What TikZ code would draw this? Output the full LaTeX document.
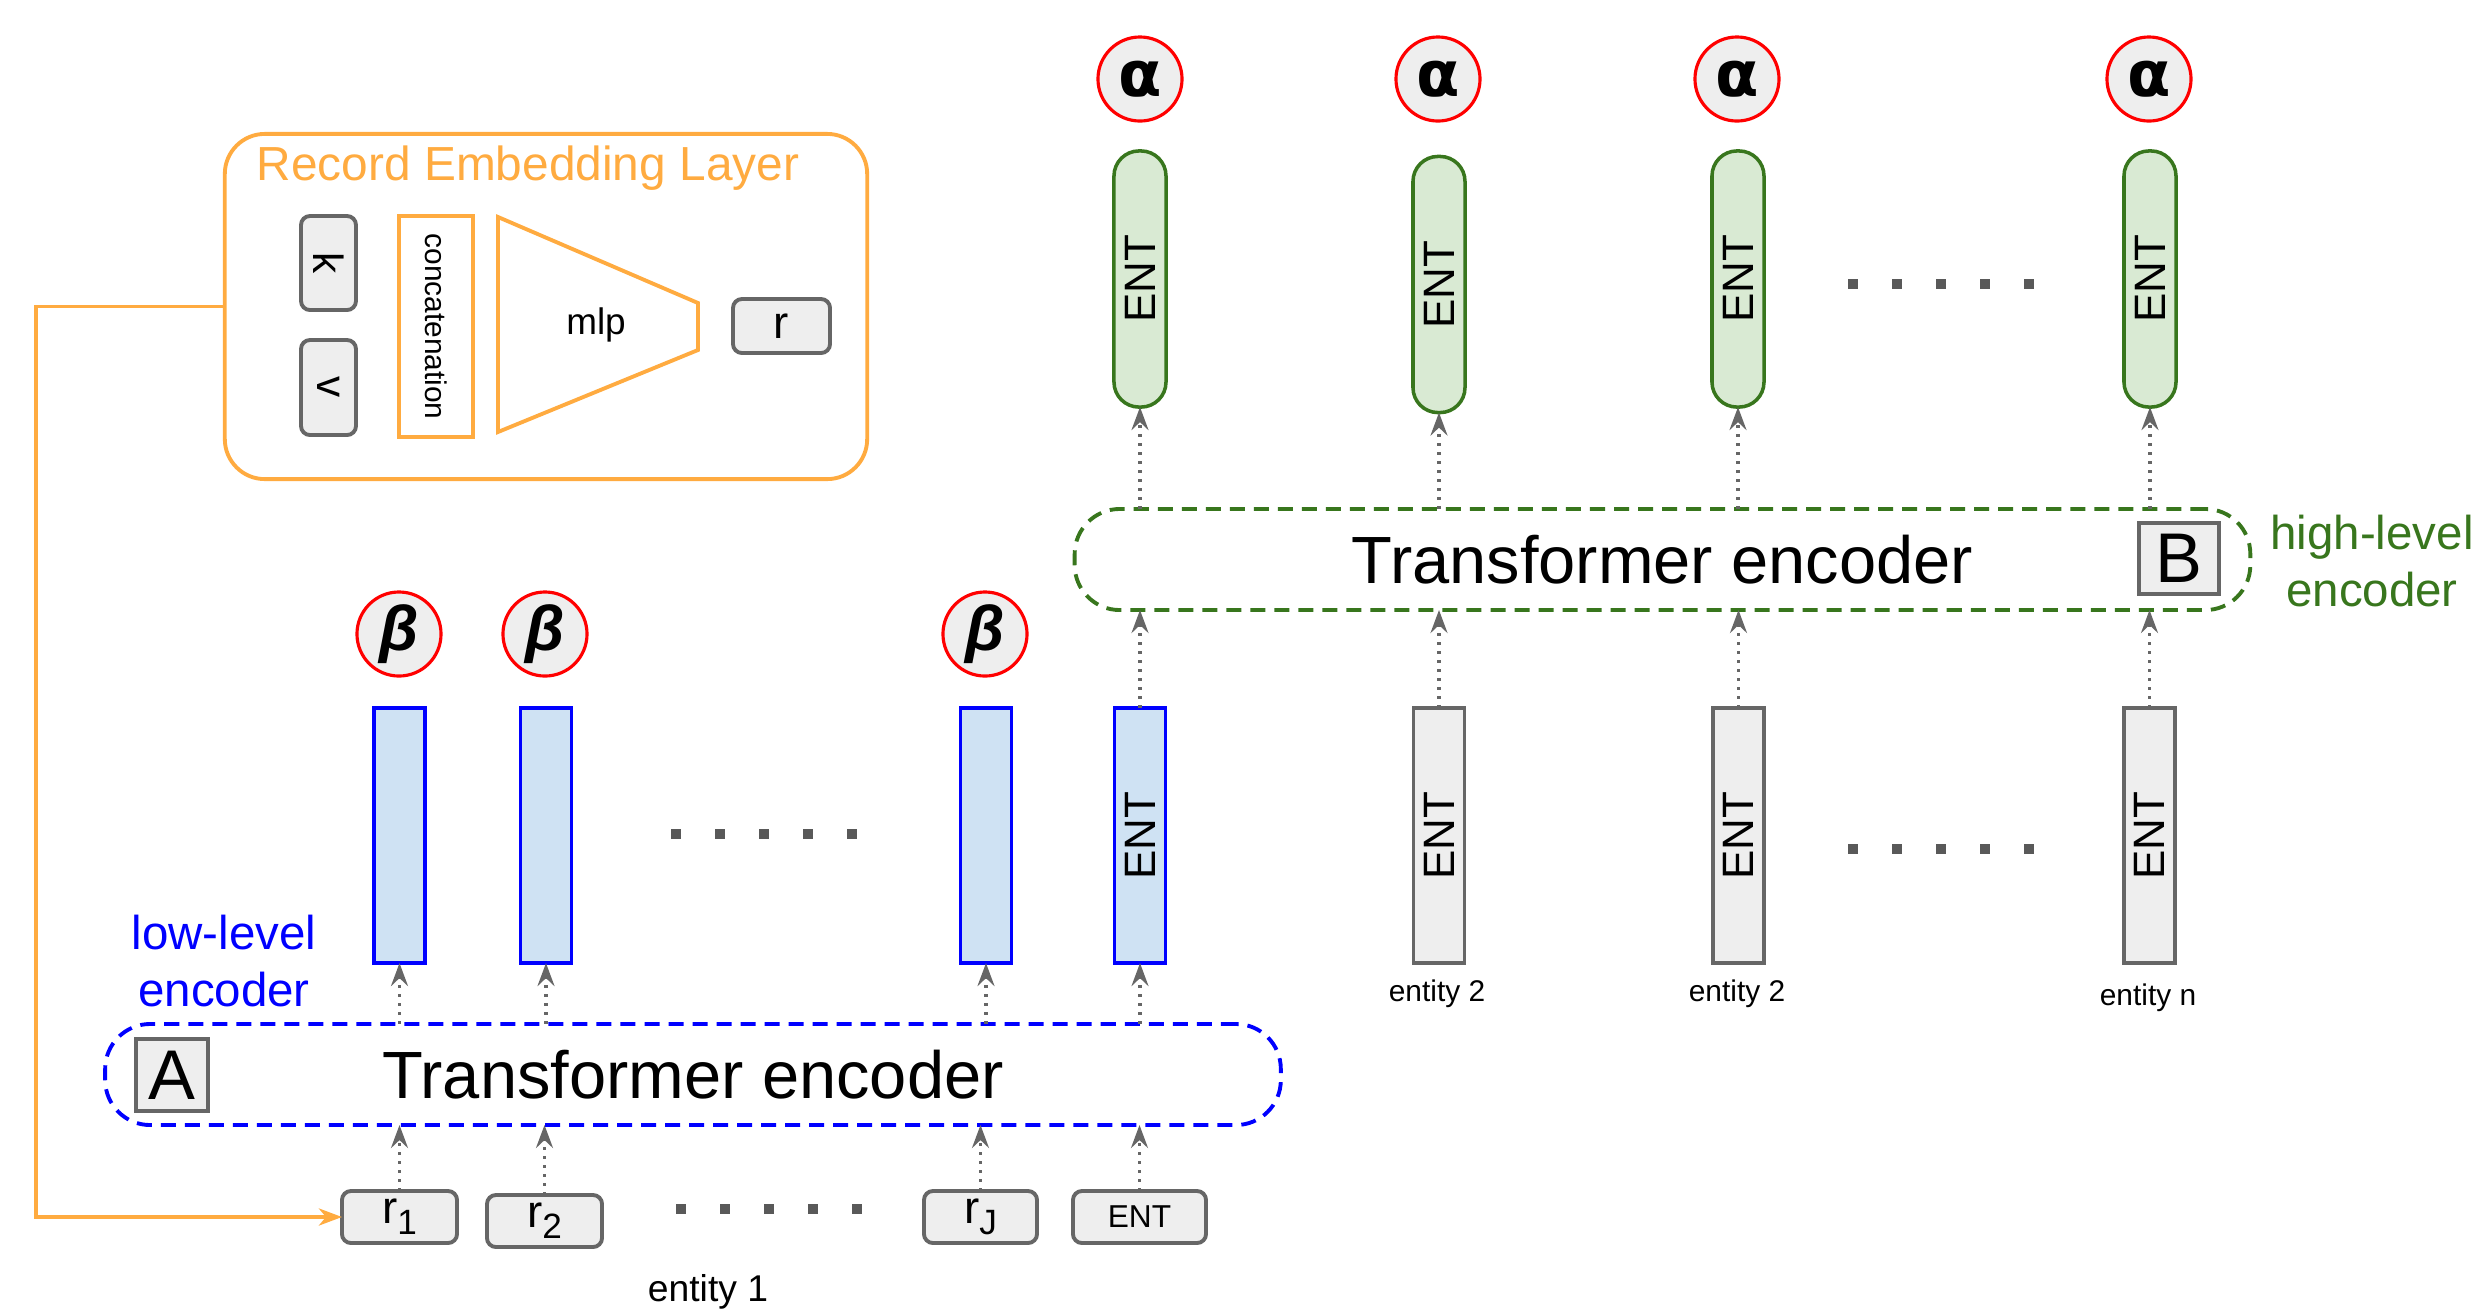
\documentclass[tikz,border=0pt]{standalone}
\usepackage{fontspec}
\setmainfont{Liberation Sans}
\newfontfamily\greekfont{DejaVu Sans}
\usetikzlibrary{arrows.meta}

\definecolor{recorange}{HTML}{FFAB40}
\definecolor{boxgray}{HTML}{EEEEEE}
\definecolor{edgegray}{HTML}{666666}
\definecolor{dotgray}{HTML}{595959}
\definecolor{entgreen}{HTML}{38761D}
\definecolor{entgreenfill}{HTML}{D9EAD3}
\definecolor{barblue}{HTML}{0000FF}
\definecolor{barbluefill}{HTML}{CFE2F3}
\definecolor{attred}{HTML}{FF0000}

\newcommand\fsz[1]{\fontsize{#1}{1.2\dimexpr #1\relax}\selectfont}
\newcommand\alphaglyph{{\greekfont\bfseries\fontsize{18pt}{18pt}\selectfont α}}
\newcommand\betaglyph{{\bfseries\itshape\fontsize{18pt}{18pt}\selectfont β}}

\begin{document}
\begin{tikzpicture}[x=0.01cm, y=-0.01cm,
  every node/.style={inner sep=0pt, outer sep=0pt},
  recline/.style={draw=recorange, line width=1.1pt},
  tokbox/.style={draw=edgegray, fill=boxgray, line width=1.1pt, rounded corners=0.09cm},
  grayent/.style={draw=edgegray, fill=boxgray, line width=1.1pt,
    minimum width=0.51cm, minimum height=2.55cm, font=\fsz{12.5pt}},
  blueent/.style={draw=barblue, fill=barbluefill, line width=1.1pt,
    minimum width=0.51cm, minimum height=2.55cm, font=\fsz{12.5pt}},
  greenent/.style={draw=entgreen, fill=entgreenfill, line width=1pt, rounded corners=0.25cm,
    minimum width=0.52cm, minimum height=2.56cm, font=\fsz{12.5pt}},
  attn/.style={circle, draw=attred, fill=boxgray, line width=0.9pt, minimum size=0.84cm},
  encoder/.style={line width=1.1pt, dash pattern=on 0.15cm off 0.09cm, rounded corners=0.45cm,
    minimum width=11.75cm, minimum height=1.01cm, font=\fsz{19pt}},
  tagbox/.style={draw=edgegray, fill=boxgray, line width=1.1pt, font=\fsz{20pt}},
  flow/.style={draw=edgegray, line width=0.9pt, dash pattern=on 0.03cm off 0.06cm,
    -{Stealth[length=0.23cm, width=0.17cm, inset=0.08cm]}},
  dotsq/.style={fill=dotgray, minimum size=0.105cm},
  entlabel/.style={font=\fsz{8.5pt}}
]
\useasboundingbox (0,0) rectangle (2471,1311);

% ---------- record embedding layer ----------
\node[recline, rounded corners=0.4cm, minimum width=6.42cm, minimum height=3.45cm] (reclayer) at (546,306.5) {};
\node[text=recorange, font=\fsz{13.6pt}] (rectitle) at (528,168) {Record Embedding Layer};
\node[tokbox, minimum width=0.55cm, minimum height=0.94cm, font=\fsz{12pt}] (kbox) at (328.5,263) {\rotatebox{-90}{k}};
\node[tokbox, minimum width=0.55cm, minimum height=0.95cm, font=\fsz{12pt}] (vbox) at (328.5,387.5) {\rotatebox{-90}{v}};
\node[recline, fill=white, minimum width=0.74cm, minimum height=2.21cm, font=\fsz{8.5pt}] (concat) at (436,326.5) {\rotatebox{-90}{concatenation}};
\draw[recline, line join=miter] (498,217) -- (698,303) -- (698,350) -- (498,432) -- cycle;
\node[font=\fsz{10.5pt}] (mlp) at (596,325) {mlp};
\node[tokbox, minimum width=0.97cm, minimum height=0.54cm, font=\fsz{13pt}] (rout) at (781.5,326) {r};

% ---------- high-level part ----------
\node[attn] (a1) at (1140,79) {\alphaglyph};
\node[attn] (a2) at (1438,79) {\alphaglyph};
\node[attn] (a3) at (1737,79) {\alphaglyph};
\node[attn] (a4) at (2149,79) {\alphaglyph};

\node[greenent] (g1) at (1140,279) {\rotatebox{90}{ENT}};
\node[greenent] (g2) at (1439,284.5) {\rotatebox{90}{ENT}};
\node[greenent] (g3) at (1738,279) {\rotatebox{90}{ENT}};
\node[greenent] (g4) at (2150,279) {\rotatebox{90}{ENT}};

\foreach \i/\x in {1/1853,2/1897,3/1941,4/1985,5/2029}
  \node[dotsq] (tdot\i) at (\x,284) {};

\node[encoder, draw=entgreen] (hightf) at (1662.5,559.5) {Transformer encoder};
\node[tagbox, minimum width=0.8cm, minimum height=0.71cm] (btag) at (2179,558.5) {B};
\node[text=entgreen, align=center, font=\fontsize{13.5pt}{16.3pt}\selectfont] (hilabel) at (2372,561) {high-level\\encoder};

\node[grayent] (e2) at (1439,835.5) {\rotatebox{90}{ENT}};
\node[grayent] (e3) at (1738.5,835.5) {\rotatebox{90}{ENT}};
\node[grayent] (en) at (2149.5,835.5) {\rotatebox{90}{ENT}};
\node[entlabel] (e2lab) at (1437,994) {entity 2};
\node[entlabel] (e3lab) at (1737,994) {entity 2};
\node[entlabel] (enlab) at (2148,998) {entity n};

\foreach \i/\x in {1/1853,2/1897,3/1941,4/1985,5/2029}
  \node[dotsq] (rdot\i) at (\x,849) {};

% ---------- low-level part ----------
\node[attn] (b1) at (399,634) {\betaglyph};
\node[attn] (b2) at (545,634) {\betaglyph};
\node[attn] (b3) at (985,634) {\betaglyph};

\node[blueent] (h1) at (399.5,835.5) {};
\node[blueent] (h2) at (546,835.5) {};
\node[blueent] (h3) at (986,835.5) {};
\node[blueent] (h4) at (1140,835.5) {\rotatebox{90}{ENT}};

\foreach \i/\x in {1/676,2/720,3/764,4/808,5/852}
  \node[dotsq] (mdot\i) at (\x,834) {};

\node[text=barblue, align=center, font=\fontsize{13.5pt}{16.3pt}\selectfont] (lolabel) at (224,961) {low-level\\encoder};
\node[encoder, draw=barblue] (lowtf) at (693,1074.5) {Transformer encoder};
\node[tagbox, minimum width=0.72cm, minimum height=0.72cm] (atag) at (172,1075) {A};

\node[tokbox, minimum width=1.15cm, minimum height=0.52cm, font=\fsz{13pt}] (r1) at (399.5,1217) {r\raisebox{-0.45ex}{\fsz{10pt}1}};
\node[tokbox, minimum width=1.15cm, minimum height=0.52cm, font=\fsz{13pt}] (r2) at (544.5,1221) {r\raisebox{-0.45ex}{\fsz{10pt}2}};
\node[tokbox, minimum width=1.13cm, minimum height=0.52cm, font=\fsz{13pt}] (rJ) at (980.5,1217) {r\raisebox{-0.45ex}{\fsz{10pt}J}};
\node[tokbox, minimum width=1.33cm, minimum height=0.52cm, font=\fsz{9pt}] (entin) at (1139.5,1217) {ENT};

\foreach \i/\x in {1/681,2/725,3/769,4/813,5/857}
  \node[dotsq] (bdot\i) at (\x,1209) {};

\node[font=\fsz{10.6pt}] (ent1lab) at (708,1292) {entity 1};

% ---------- connectors ----------
\coordinate (loopTop) at (36,306.5);
\coordinate (loopBot) at (36,1217);
\draw[recline, -{Stealth[length=0.23cm, width=0.17cm, inset=0.07cm]}] (reclayer.west) -- (loopTop) -- (loopBot) -- (r1.west);

\foreach \s in {r1,r2,rJ,entin}
  \draw[flow] (\s.north) -- (\s.north |- lowtf.south);
\foreach \t in {h1,h2,h3,h4}
  \draw[flow] (\t.south |- lowtf.north) -- (\t.south);

\foreach \s in {h4,e2,e3,en}
  \draw[flow] (\s.north) -- (\s.north |- hightf.south);
\foreach \t in {g1,g2,g3,g4}
  \draw[flow] (\t.south |- hightf.north) -- (\t.south);
\end{tikzpicture}
\end{document}
